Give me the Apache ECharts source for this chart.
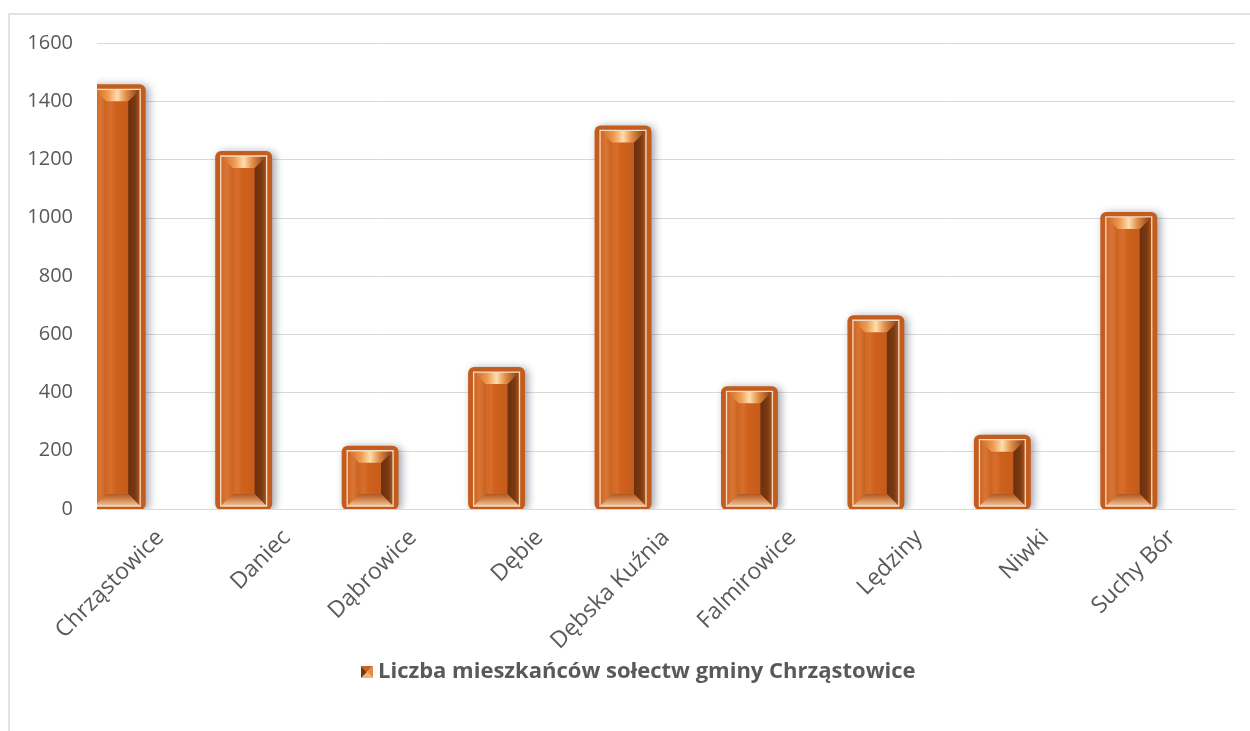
<!DOCTYPE html>
<html>
<head>
<meta charset="utf-8">
<script src="https://cdn.jsdelivr.net/npm/echarts@6/dist/echarts.min.js"></script>
<style>
  html, body { margin: 0; padding: 0; background: #ffffff; }
  #chart { width: 1250px; height: 731px; }
</style>
</head>
<body>
<div id="chart"></div>
<script>
const categories = ['Chrząstowice', 'Daniec', 'Dąbrowice', 'Dębie', 'Dębska Kuźnia', 'Falmirowice', 'Lędziny', 'Niwki', 'Suchy Bór'];
const values = [1441, 1212, 200, 470, 1300, 404, 648, 238, 1003];
const seriesName = 'Liczba mieszkańców sołectw gminy Chrząstowice';
const yMin = 0, yMax = 1600, yStep = 200;

const iconSvg = '<svg xmlns="http://www.w3.org/2000/svg" width="12" height="12">' +
  '<polygon points="0,0 12,0 6,6" fill="#C8641E"/>' +
  '<polygon points="0,12 12,12 6,6" fill="#F2B47A"/>' +
  '<polygon points="0,0 0,12 6,6" fill="#7E3410"/>' +
  '<polygon points="12,0 12,12 6,6" fill="#E98A3C"/></svg>';
const iconUri = 'image://data:image/svg+xml;charset=utf-8,' + encodeURIComponent(iconSvg);

function lg(x0, y0, x1, y1, stops) {
  return new echarts.graphic.LinearGradient(x0, y0, x1, y1, stops.map(s => ({offset: s[0], color: s[1]})));
}

function renderItem(params, api) {
  const i = api.value(0), v = api.value(1);
  const top = api.coord([i, v]);
  const base = api.coord([i, 0]);
  const band = api.size([1, 0])[0];
  const cx = top[0] - band * 0.34;
  const w = band * 0.45;
  const inset = 5.5;
  const oL = cx - w / 2, oR = cx + w / 2, oT = top[1] - 5, oB = base[1] + 1;
  const L = oL + inset, R = oR - inset, T = top[1], B = base[1] - 3;
  const b = Math.min(12, (B - T) / 2.6, (R - L) / 2.6);
  return {
    type: 'group',
    children: [
      { type: 'rect', shape: { x: oL, y: oT, width: oR - oL, height: oB - oT, r: 6 },
        style: { fill: '#C35C1C', shadowBlur: 9, shadowOffsetX: 3, shadowOffsetY: 1, shadowColor: 'rgba(60,65,85,0.5)' } },
      { type: 'rect', shape: { x: L, y: T, width: R - L, height: B - T },
        style: { fill: lg(0, 0, 1, 0, [[0, '#C65C18'], [0.38, '#D86E2C'], [0.45, '#CF621C'], [1, '#BC561A']]) } },
      { type: 'polygon', shape: { points: [[L, T], [L + b, T + b], [L + b, B - b], [L, B]] },
        style: { fill: lg(0, 0, 1, 0, [[0, '#CF6522'], [0.5, '#D97636'], [1, '#C9621F']]) } },
      { type: 'polygon', shape: { points: [[R, T], [R - b, T + b], [R - b, B - b], [R, B]] },
        style: { fill: lg(0, 0, 1, 0, [[0, '#6A300D'], [0.6, '#7A3A12'], [1, '#B0581E']]) } },
      { type: 'polygon', shape: { points: [[L, T], [R, T], [R - b, T + b], [L + b, T + b]] },
        style: { fill: lg(0, 0, 1, 0, [[0, '#D0661F'], [0.3, '#EE9A52'], [0.5, '#FFDDAA'], [0.7, '#E08A45'], [1, '#7A3A12']]) } },
      { type: 'polygon', shape: { points: [[L, B], [R, B], [R - b, B - b], [L + b, B - b]] },
        style: { fill: lg(0, 1, 0, 0, [[0, '#EFC49C'], [0.5, '#D48A56'], [1, '#B0581F']]) } },
      { type: 'rect', shape: { x: L, y: T, width: R - L, height: B - T },
        style: { fill: 'none', stroke: '#F4DCC6', lineWidth: 1.3 } }
    ]
  };
}

const chart = echarts.init(document.getElementById('chart'), null, { renderer: 'canvas' });
chart.setOption({
  backgroundColor: '#ffffff',
  animation: false,
  textStyle: { fontFamily: '"Open Sans", sans-serif' },
  graphic: [{
    type: 'rect', silent: true, z: -10,
    shape: { x: 9, y: 14, width: 1400, height: 900 },
    style: { fill: 'none', stroke: '#D9D9D9', lineWidth: 1.5 }
  }],
  grid: { left: 97, right: 15, top: 43, bottom: 222, containLabel: false },
  xAxis: {
    type: 'category',
    data: categories,
    axisLine: { show: true, lineStyle: { color: '#D9D9D9', width: 1 } },
    axisTick: { show: false },
    axisLabel: { rotate: 45, margin: 25, fontSize: 23, color: '#595959', interval: 0 }
  },
  yAxis: {
    type: 'value',
    min: yMin, max: yMax, interval: yStep,
    axisLine: { show: false },
    axisTick: { show: false },
    axisLabel: { fontSize: 20, color: '#595959', margin: 24, formatter: v => String(v) },
    splitLine: { lineStyle: { color: '#D9D9D9', width: 1 } }
  },
  legend: {
    data: [{ name: seriesName, icon: iconUri }],
    left: 356, top: 656,
    itemWidth: 12, itemHeight: 12, itemGap: 6,
    textStyle: { fontSize: 22, fontWeight: 'bold', color: '#595959', fontFamily: '"Open Sans", sans-serif' }
  },
  series: [{
    name: seriesName,
    type: 'custom',
    clip: true,
    renderItem: renderItem,
    itemStyle: { color: '#C55A11' },
    encode: { x: 0, y: 1 },
    data: values.map((v, i) => [i, v])
  }]
});
</script>
</body>
</html>
